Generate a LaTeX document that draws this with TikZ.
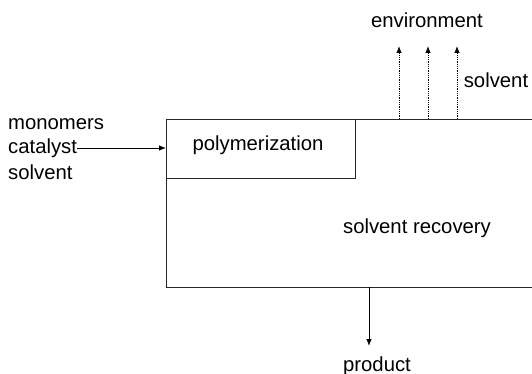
\documentclass[tikz,border=0pt]{standalone}
\usepackage{fontspec}
\setmainfont{Liberation Sans}
\usetikzlibrary{arrows.meta}
\begin{document}
\begin{tikzpicture}[x=1pt,y=-1pt,
  lbl/.style={font=\fontsize{20.3}{23}\selectfont, inner sep=0pt},
  box/.style={draw=black!85, line width=0.9pt},
  flow/.style={line width=0.8pt, -{Latex[length=7pt,width=5.5pt]}},
  vent/.style={line width=0.8pt, densely dotted, -{Latex[length=7pt,width=5.5pt]}}]
\useasboundingbox (0,0) rectangle (532,374);
% main block (open at right)
\coordinate (bl) at (166,287);
\coordinate (tl) at (166,119);
\draw[box] (532,119) -- (tl) -- (bl) -- (532,287);
% polymerization block
\draw[box] (166,178) -- (355,178) -- (355,119);
\node[lbl] (poly) at (258,145) {polymerization};
\node[lbl] (rec) at (417,228) {solvent recovery};
% inputs
\node[lbl, anchor=west] (mon) at (8,124) {monomers};
\node[lbl, anchor=west] (cat) at (8,148) {catalyst};
\node[lbl, anchor=west] (solin) at (8,172) {solvent};
\coordinate (in) at (166,148);
\draw[flow] (cat.east) -- (in);
% vents
\node[lbl] (env) at (427,20) {environment};
\node[lbl] (solout) at (496,80) {solvent};
\foreach \x [count=\i] in {399,428,457}{
  \coordinate (v\i a) at (\x,119);
  \coordinate (v\i b) at (\x,46);
  \draw[vent] (v\i a) -- (v\i b);
}
% product
\coordinate (pa) at (369,287);
\coordinate (pb) at (369,346);
\node[lbl] (prod) at (377,366) {product};
\draw[flow] (pa) -- (pb);
\end{tikzpicture}
\end{document}
